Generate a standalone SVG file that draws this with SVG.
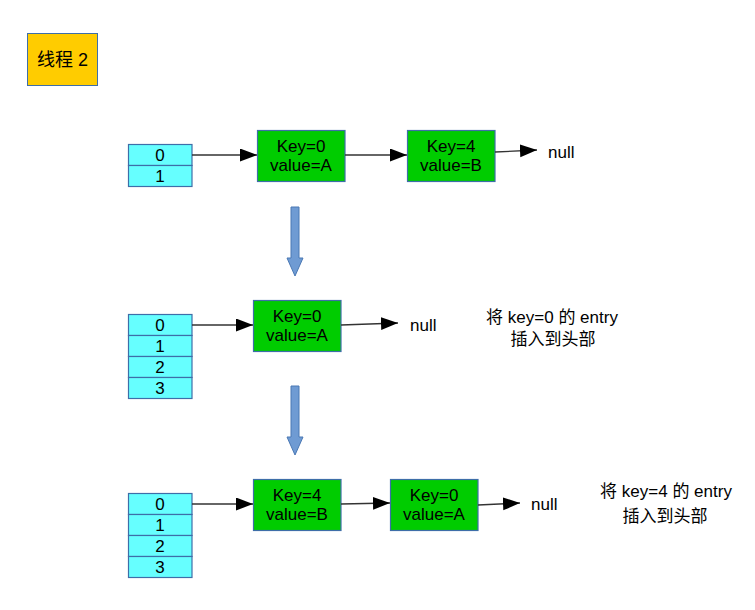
<svg xmlns="http://www.w3.org/2000/svg" width="755" height="610" viewBox="0 0 755 610">
<style>
text{font-family:"Liberation Sans","Noto Sans CJK SC",sans-serif;fill:#000}
.t{font-size:17px;text-anchor:middle}
.n{font-size:17px}
.cell{fill:#66ffff;stroke:#3e6ea8;stroke-width:1.2}
.node{fill:#00cc00;stroke:#3e6ea8;stroke-width:1.2}
.conn{stroke:#333;stroke-width:1.3;fill:none;marker-end:url(#ah)}
.down{fill:#6f9bd3;stroke:#4a78b4;stroke-width:1}
</style>
<defs>
<marker id="ah" markerUnits="userSpaceOnUse" markerWidth="18" markerHeight="14" refX="17" refY="6.5" orient="auto">
<path d="M0,0 L17,6.5 L0,13 z" fill="#000"/>
</marker>
</defs>
<rect width="755" height="610" fill="#fff"/>
<g id="label">
<rect x="27.5" y="33.5" width="70" height="52" fill="#ffcc00" stroke="#3e6ea8" stroke-width="1"/>
<text x="62.5" y="66" class="t" style="font-size:18px">线程 2</text>
</g>
<g id="arr1">
<rect class="cell" x="128.5" y="144.5" width="63.5" height="21"/>
<rect class="cell" x="128.5" y="165.5" width="63.5" height="21"/>
<text class="t" x="160" y="161">0</text>
<text class="t" x="160" y="182">1</text>
</g>
<g id="n1a">
<rect class="node" x="257.5" y="130.5" width="87.5" height="51"/>
<text class="t" x="301" y="152">Key=0</text>
<text class="t" x="301" y="171">value=A</text>
</g>
<g id="n1b">
<rect class="node" x="407.5" y="130.5" width="87.5" height="51"/>
<text class="t" x="451" y="152">Key=4</text>
<text class="t" x="451" y="171">value=B</text>
</g>
<text class="n" x="548" y="158">null</text>
<g id="down1"><path class="down" d="M291,207 H299 V258 H303 L295,276 L287,258 H291 Z"/></g>
<g id="arr2">
<rect class="cell" x="128.5" y="314.5" width="63.5" height="21"/>
<rect class="cell" x="128.5" y="335.5" width="63.5" height="21"/>
<rect class="cell" x="128.5" y="356.5" width="63.5" height="21"/>
<rect class="cell" x="128.5" y="377.5" width="63.5" height="21"/>
<text class="t" x="160" y="331">0</text>
<text class="t" x="160" y="352">1</text>
<text class="t" x="160" y="373">2</text>
<text class="t" x="160" y="394">3</text>
</g>
<g id="n2a">
<rect class="node" x="253.5" y="300.5" width="87.5" height="51"/>
<text class="t" x="297" y="322">Key=0</text>
<text class="t" x="297" y="341">value=A</text>
</g>
<text class="n" x="410" y="331">null</text>
<g id="note1">
<text class="t" x="552" y="323">将 key=0 的 entry</text>
<text class="t" x="553" y="345">插入到头部</text>
</g>
<g id="down2"><path class="down" d="M291,386 H299 V437 H303 L295,455 L287,437 H291 Z"/></g>
<g id="arr3">
<rect class="cell" x="128.5" y="493.5" width="63.5" height="21"/>
<rect class="cell" x="128.5" y="514.5" width="63.5" height="21"/>
<rect class="cell" x="128.5" y="535.5" width="63.5" height="21"/>
<rect class="cell" x="128.5" y="556.5" width="63.5" height="21"/>
<text class="t" x="160" y="510">0</text>
<text class="t" x="160" y="531">1</text>
<text class="t" x="160" y="552">2</text>
<text class="t" x="160" y="573">3</text>
</g>
<g id="n3a">
<rect class="node" x="253.5" y="479.5" width="87.5" height="51"/>
<text class="t" x="297" y="501">Key=4</text>
<text class="t" x="297" y="520">value=B</text>
</g>
<g id="n3b">
<rect class="node" x="390.5" y="479.5" width="87.5" height="51"/>
<text class="t" x="434" y="501">Key=0</text>
<text class="t" x="434" y="520">value=A</text>
</g>
<text class="n" x="531" y="510">null</text>
<g id="note2">
<text class="t" x="666" y="497">将 key=4 的 entry</text>
<text class="t" x="665" y="522">插入到头部</text>
</g>
<g id="connectors">
<path class="conn" d="M192,155 H257"/>
<path class="conn" d="M345,155 H407"/>
<path class="conn" d="M495,152 L537,150"/>
<path class="conn" d="M192,325 H253"/>
<path class="conn" d="M341,325 L398,323"/>
<path class="conn" d="M192,504 H253"/>
<path class="conn" d="M341,504 L390,503"/>
<path class="conn" d="M478,505 L520,503"/>
</g>
</svg>
